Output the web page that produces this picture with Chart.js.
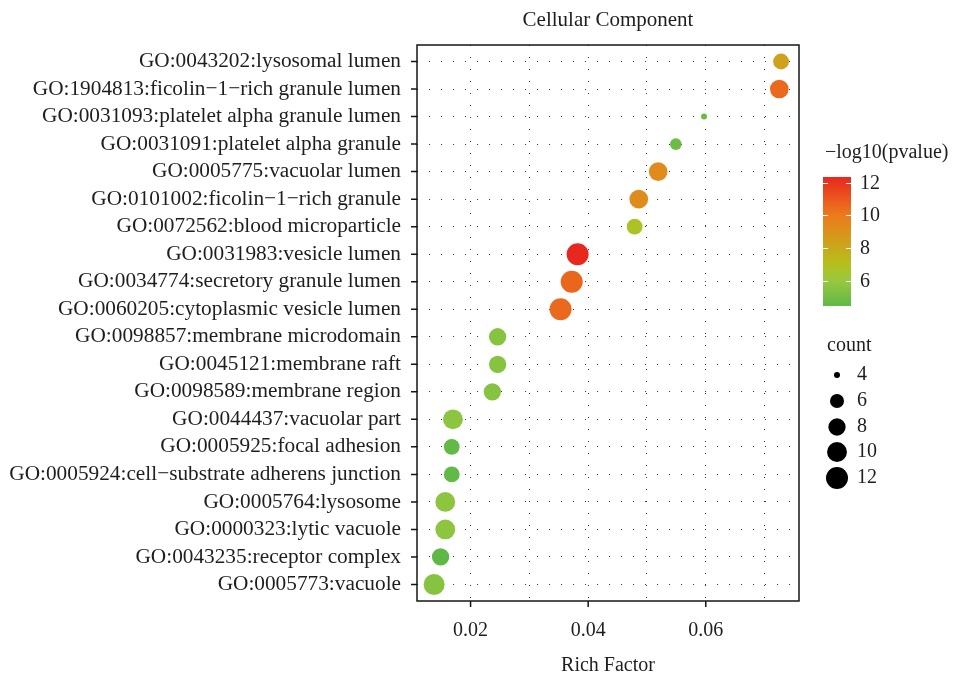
<!DOCTYPE html>
<html>
<head>
<meta charset="utf-8">
<script src="https://cdn.jsdelivr.net/npm/chart.js@4.4.1/dist/chart.umd.min.js"></script>
<style>
  html, body { margin: 0; padding: 0; background: #fff; }
  #wrap { width: 955px; height: 677px; }
</style>
</head>
<body>
<div id="wrap"><canvas id="go-chart" width="955" height="677"></canvas></div>
<script>
// GO terms, top row first
var terms = [
  'GO:0043202:lysosomal lumen',
  'GO:1904813:ficolin\u22121\u2212rich granule lumen',
  'GO:0031093:platelet alpha granule lumen',
  'GO:0031091:platelet alpha granule',
  'GO:0005775:vacuolar lumen',
  'GO:0101002:ficolin\u22121\u2212rich granule',
  'GO:0072562:blood microparticle',
  'GO:0031983:vesicle lumen',
  'GO:0034774:secretory granule lumen',
  'GO:0060205:cytoplasmic vesicle lumen',
  'GO:0098857:membrane microdomain',
  'GO:0045121:membrane raft',
  'GO:0098589:membrane region',
  'GO:0044437:vacuolar part',
  'GO:0005925:focal adhesion',
  'GO:0005924:cell\u2212substrate adherens junction',
  'GO:0005764:lysosome',
  'GO:0000323:lytic vacuole',
  'GO:0043235:receptor complex',
  'GO:0005773:vacuole'
];
var richFactor = [0.0728, 0.0725, 0.0597, 0.0549, 0.0519, 0.0486, 0.0479, 0.0382, 0.0372, 0.0353,
                  0.0246, 0.0246, 0.0237, 0.0170, 0.0168, 0.0168, 0.0157, 0.0157, 0.0149, 0.0138];
var geneCount  = [7, 9, 4, 5, 9, 9, 7, 12, 12, 12, 8, 8, 8, 10, 7, 7, 10, 10, 8, 11];
var negLogP    = [8.3, 10.5, 4.7, 4.8, 9.3, 9.2, 6.7, 12.35, 10.6, 10.5,
                  5.5, 5.5, 5.5, 5.7, 4.5, 4.5, 5.7, 5.7, 4.45, 5.5];

var xGridValues = [0.02, 0.03, 0.04, 0.05, 0.06, 0.07];
var xTickLabels = ['0.02', '', '0.04', '', '0.06', ''];
var colorBreaks = [6, 8, 10, 12];
var countBreaks = [4, 6, 8, 10, 12];

// colour scale for -log10(pvalue)
var gradValues = [4.45, 6, 7, 8, 10, 12.35];
var gradColors = ['#5fb846', '#98c83f', '#b4c01c', '#c9a91c', '#ec7b1c', '#e8281f'];

var FONT = '"Liberation Serif", "Times New Roman", serif';
var TEXT = '#1e1e1e';

function hexToRgb(h) {
  return [parseInt(h.substr(1, 2), 16), parseInt(h.substr(3, 2), 16), parseInt(h.substr(5, 2), 16)];
}

function colorFor(v) {
  if (v <= gradValues[0]) return gradColors[0];
  for (var k = 1; k < gradValues.length; k++) {
    if (v <= gradValues[k]) {
      var t = (v - gradValues[k - 1]) / (gradValues[k] - gradValues[k - 1]);
      var a = hexToRgb(gradColors[k - 1]), b = hexToRgb(gradColors[k]);
      return 'rgb(' + Math.round(a[0] + (b[0] - a[0]) * t) + ',' +
        Math.round(a[1] + (b[1] - a[1]) * t) + ',' +
        Math.round(a[2] + (b[2] - a[2]) * t) + ')';
    }
  }
  return gradColors[gradColors.length - 1];
}

// size scale, area style like ggplot
var minCount = 4, maxCount = 12;
function sizeFor(c) {
  return 3 + 8 * Math.sqrt(Math.max(0, c - minCount) / (maxCount - minCount));
}

var points = terms.map(function(t, i) {
  return { x: richFactor[i], y: i, r: sizeFor(geneCount[i]) };
});
var pointColors = negLogP.map(colorFor);

// frame, tick marks, title and the two legends
var panelDecor = {
  id: 'panelDecor',
  afterDraw: function(chart) {
    var ctx = chart.ctx;
    var area = chart.chartArea;
    var xs = chart.scales.x, ys = chart.scales.y;
    ctx.save();

    ctx.strokeStyle = '#161616';
    ctx.lineWidth = 1.5;
    ctx.strokeRect(area.left, area.top, area.right - area.left, area.bottom - area.top);

    ctx.beginPath();
    terms.forEach(function(t, i) {
      var y = ys.getPixelForValue(i);
      ctx.moveTo(area.left - 6, y);
      ctx.lineTo(area.left, y);
    });
    xGridValues.forEach(function(v, i) {
      if (!xTickLabels[i]) return;
      var x = xs.getPixelForValue(v);
      ctx.moveTo(x, area.bottom);
      ctx.lineTo(x, area.bottom + 6);
    });
    ctx.stroke();

    ctx.fillStyle = TEXT;
    ctx.font = '21px ' + FONT;
    ctx.textAlign = 'center';
    ctx.textBaseline = 'middle';
    ctx.fillText('Cellular Component', (area.left + area.right) / 2, 20);

    // colour bar
    var vMin = Math.min.apply(null, negLogP), vMax = Math.max.apply(null, negLogP);
    var barLeft = 823, barRight = 851, barTop = 177, barBottom = 306;
    var barY = function(v) { return barBottom - (v - vMin) / (vMax - vMin) * (barBottom - barTop); };
    var grad = ctx.createLinearGradient(0, barBottom, 0, barTop);
    for (var k = 0; k <= 50; k++) {
      grad.addColorStop(k / 50, colorFor(vMin + (vMax - vMin) * k / 50));
    }
    ctx.fillStyle = grad;
    ctx.fillRect(barLeft, barTop, barRight - barLeft, barBottom - barTop);

    ctx.font = '20px ' + FONT;
    ctx.textAlign = 'left';
    ctx.fillStyle = TEXT;
    ctx.fillText('\u2212log10(pvalue)', 825, 153);
    ctx.strokeStyle = '#fff';
    ctx.lineWidth = 1;
    colorBreaks.forEach(function(b) {
      var y = Math.round(barY(b)) + 0.5;
      ctx.beginPath();
      ctx.moveTo(barLeft, y); ctx.lineTo(barLeft + 5, y);
      ctx.moveTo(barRight - 5, y); ctx.lineTo(barRight, y);
      ctx.stroke();
      ctx.fillText(String(b), 860, y);
    });

    // size legend
    ctx.fillText('count', 827, 346);
    var rowY = [375, 401, 427, 452, 478];
    countBreaks.forEach(function(c, i) {
      ctx.fillStyle = '#000';
      ctx.beginPath();
      ctx.arc(837, rowY[i], sizeFor(c), 0, Math.PI * 2);
      ctx.fill();
      ctx.fillStyle = TEXT;
      ctx.fillText(String(c), 857, rowY[i]);
    });

    ctx.restore();
  }
};

Chart.defaults.font.family = FONT;
Chart.defaults.font.size = 20;
Chart.defaults.color = TEXT;

var gridColor = 'rgba(20,20,20,0.85)';

var chartCtx = document.getElementById('go-chart').getContext('2d');
var goChart = new Chart(chartCtx, {
  type: 'bubble',
  data: {
    datasets: [{
      label: 'count',
      data: points,
      backgroundColor: pointColors,
      borderWidth: 0,
      hoverBorderWidth: 0
    }]
  },
  options: {
    responsive: false,
    animation: false,
    devicePixelRatio: 1,
    events: [],
    layout: { padding: { top: 45, right: 156, left: 0, bottom: 0 } },
    plugins: {
      legend: { display: false },
      tooltip: { enabled: false },
      title: { display: false }
    },
    scales: {
      x: {
        type: 'linear',
        min: 0.01089,
        max: 0.07585,
        afterBuildTicks: function(axis) {
          axis.ticks = xGridValues.map(function(v) { return { value: v }; });
        },
        afterFit: function(axis) { axis.height = 76; },
        grid: { color: gridColor, lineWidth: 1, drawTicks: false },
        border: { display: false, dash: [1, 11] },
        ticks: {
          autoSkip: false,
          maxRotation: 0,
          padding: 18,
          callback: function(v, i) { return xTickLabels[i]; }
        },
        title: {
          display: true,
          text: 'Rich Factor',
          font: { size: 20, lineHeight: 1 },
          padding: { top: 0, bottom: 1 }
        }
      },
      y: {
        type: 'linear',
        reverse: true,
        min: -0.6,
        max: terms.length - 0.4,
        afterBuildTicks: function(axis) {
          axis.ticks = terms.map(function(t, i) { return { value: i }; });
        },
        afterFit: function(axis) { axis.width = 417; },
        grid: { color: gridColor, lineWidth: 1, drawTicks: false },
        border: { display: false, dash: [1, 11] },
        ticks: {
          autoSkip: false,
          padding: 16,
          font: { size: 21.3 },
          callback: function(v, i) { return terms[i]; }
        }
      }
    }
  },
  plugins: [panelDecor]
});
</script>
</body>
</html>
